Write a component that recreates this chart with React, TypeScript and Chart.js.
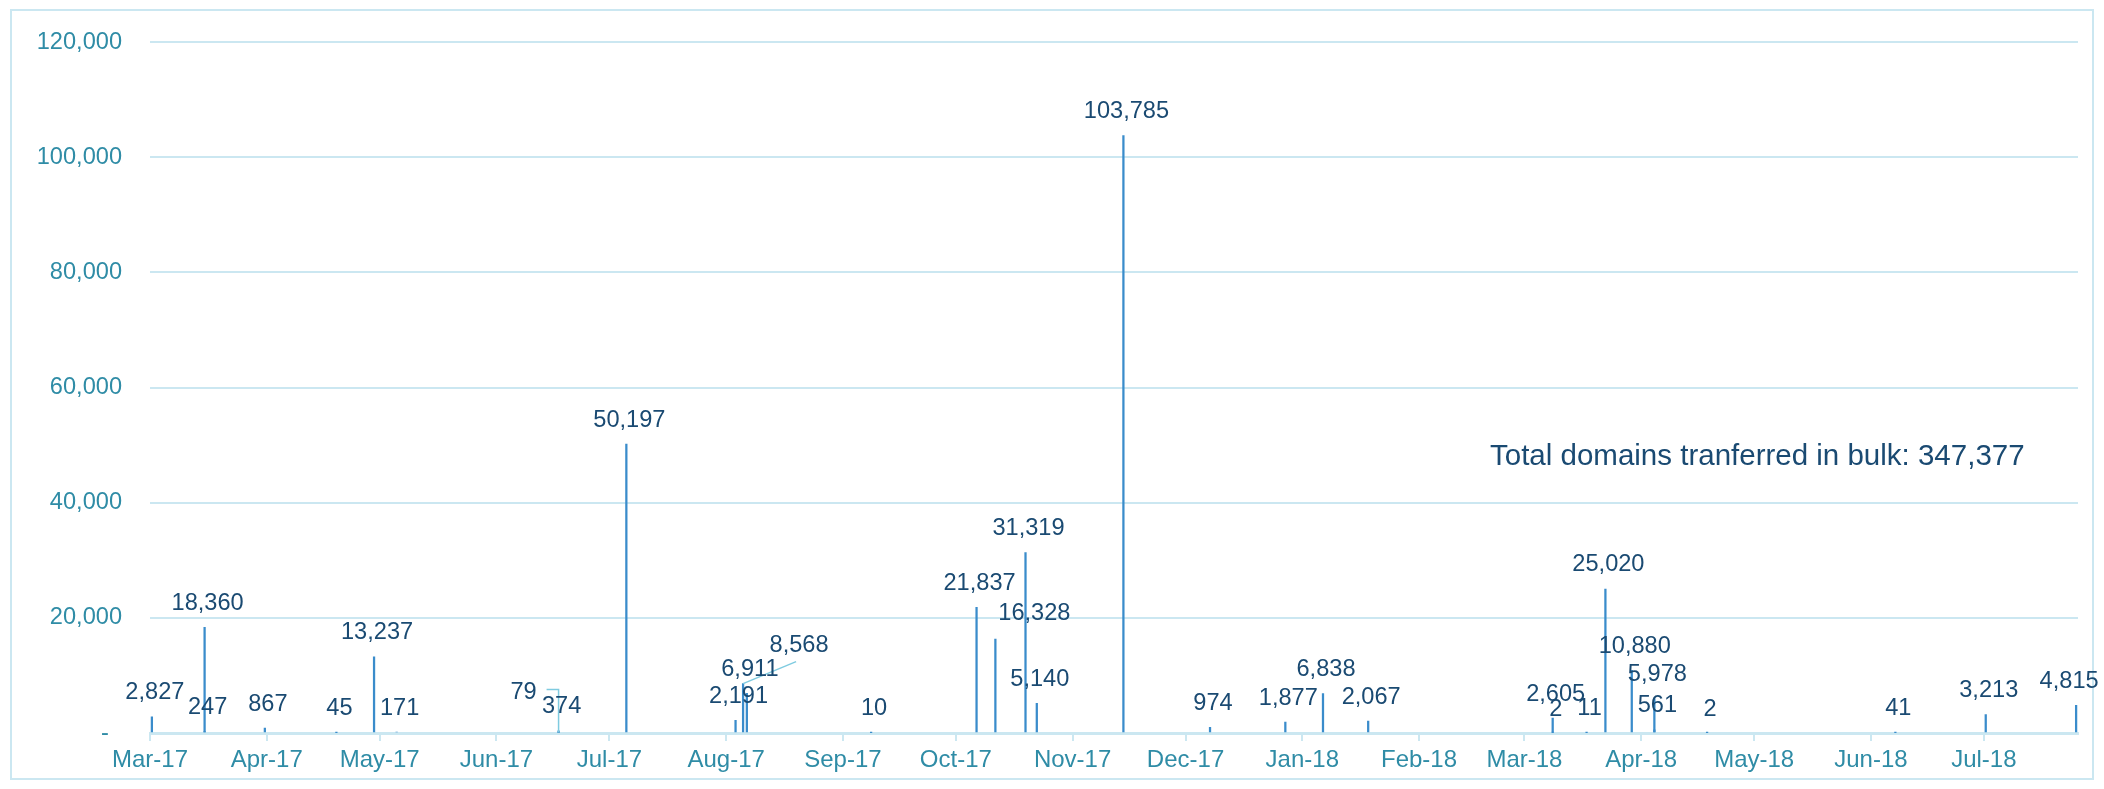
import React, { useEffect, useRef } from "react";
import { Chart, registerables } from "chart.js";

Chart.register(...registerables);

// ---- data ----
const dates = [
  "2017-03-01", "2017-03-15", "2017-03-15", "2017-03-31", "2017-04-19", "2017-04-29",
  "2017-05-05", "2017-06-17", "2017-06-17", "2017-07-05", "2017-08-03", "2017-08-05",
  "2017-08-06", "2017-09-08", "2017-10-06", "2017-10-11", "2017-10-19", "2017-10-22",
  "2017-11-14", "2017-12-07", "2017-12-27", "2018-01-06", "2018-01-18", "2018-03-08",
  "2018-03-08", "2018-03-17", "2018-03-22", "2018-03-29", "2018-04-04", "2018-04-04",
  "2018-04-18", "2018-06-07", "2018-07-01", "2018-07-25",
];
const values = [
  2827, 18360, 247, 867, 45, 13237,
  171, 79, 374, 50197, 2191, 8568,
  6911, 10, 21837, 16328, 31319, 5140,
  103785, 974, 1877, 6838, 2067, 2605,
  2, 11, 25020, 10880, 5978, 561,
  2, 41, 3213, 4815,
];
const monthTickDates = [
  "2017-03-01", "2017-04-01", "2017-05-01", "2017-06-01", "2017-07-01", "2017-08-01",
  "2017-09-01", "2017-10-01", "2017-11-01", "2017-12-01", "2018-01-01", "2018-02-01",
  "2018-03-01", "2018-04-01", "2018-05-01", "2018-06-01", "2018-07-01",
];
const monthTickLabels = [
  "Mar-17", "Apr-17", "May-17", "Jun-17", "Jul-17", "Aug-17",
  "Sep-17", "Oct-17", "Nov-17", "Dec-17", "Jan-18", "Feb-18",
  "Mar-18", "Apr-18", "May-18", "Jun-18", "Jul-18",
];
const axisStartDate = "2017-03-01";
const axisEndDate = "2018-07-26";
const yMax = 120000;
const yStep = 20000;
const totalText = "Total domains tranferred in bulk: 347,377";

// label nudges (pixels) for the few labels that were moved in the original
const labelNudges: Record<number, [number, number]> = {
  7: [-38, -16],
  11: [53, -14],
  15: [36, -2],
  33: [-10, 0],
};
const leaderKinds: Record<number, string> = { 7: "elbow", 11: "straight" };

// ---- styling ----
const FONT = "'Liberation Sans', Arial, sans-serif";
const tealText = "#2F8CA6";
const labelText = "#1A4A72";
const lightLine = "#CBE7F1";
const barColor = "#3A8CCB";
const leaderColor = "#7FCBE0";

const dayIndex = (d: string) =>
  (Date.parse(d + "T00:00:00Z") - Date.parse(axisStartDate + "T00:00:00Z")) / 86400000;

const fmt = (v: number) => v.toLocaleString("en-US");

const overlayPlugin = {
  id: "overlay",
  beforeDraw(chart: any) {
    const ctx = chart.ctx;
    ctx.save();
    ctx.fillStyle = "#ffffff";
    ctx.fillRect(0, 0, chart.width, chart.height);
    ctx.strokeStyle = lightLine;
    ctx.lineWidth = 2;
    ctx.strokeRect(11, 10, chart.width - 22, chart.height - 20);
    ctx.restore();
  },
  afterDatasetsDraw(chart: any) {
    const ctx = chart.ctx;
    const meta = chart.getDatasetMeta(0);
    ctx.save();
    ctx.font = `23.6px ${FONT}`;
    ctx.textAlign = "center";
    ctx.textBaseline = "middle";
    meta.data.forEach((el: any, i: number) => {
      const { x, y } = el.getProps(["x", "y"], true);
      const n = labelNudges[i] || [0, 0];
      const lx = x + 3 + n[0];
      const ly = y - 24 + n[1];
      const kind = leaderKinds[i];
      if (kind) {
        ctx.strokeStyle = leaderColor;
        ctx.lineWidth = 1.5;
        ctx.beginPath();
        if (kind === "elbow") {
          ctx.moveTo(lx + 23, ly - 3);
          ctx.lineTo(x, ly - 3);
          ctx.lineTo(x, y);
        } else {
          ctx.moveTo(x, y);
          ctx.lineTo(lx - 3, ly + 16);
        }
        ctx.stroke();
      }
      ctx.fillStyle = labelText;
      ctx.fillText(fmt(values[i]), lx, ly);
    });
    ctx.font = `29.5px ${FONT}`;
    ctx.textAlign = "left";
    ctx.fillStyle = labelText;
    ctx.fillText(totalText, chart.chartArea.left + 1340, 457);
    ctx.restore();
  },
};

export default function App() {
  const ref = useRef<HTMLCanvasElement | null>(null);

  useEffect(() => {
    document.body.style.margin = "0";
    document.body.style.overflow = "hidden";
    const canvas = ref.current;
    if (!canvas) return;
    const tickPositions = monthTickDates.map(dayIndex);
    const chart = new Chart(canvas, {
      type: "bar",
      data: {
        datasets: [
          {
            data: dates.map((d, i) => ({ x: dayIndex(d) + 0.5, y: values[i] })),
            backgroundColor: barColor,
            borderWidth: 0,
            barThickness: 1.6,
          },
        ],
      },
      options: {
        responsive: false,
        devicePixelRatio: 1,
        animation: false,
        events: [],
        layout: { padding: { left: 0, top: 40, right: 26, bottom: 0 } },
        plugins: { legend: { display: false }, tooltip: { enabled: false } },
        scales: {
          x: {
            type: "linear",
            offset: false,
            min: 0,
            max: dayIndex(axisEndDate),
            afterBuildTicks: (scale: any) => {
              scale.ticks = tickPositions.map((v) => ({ value: v }));
            },
            afterFit: (scale: any) => {
              scale.height = 56;
            },
            ticks: {
              autoSkip: false,
              maxRotation: 0,
              minRotation: 0,
              padding: 5,
              color: tealText,
              font: { family: FONT, size: 24 },
              callback: (v: any) => {
                const idx = tickPositions.indexOf(Number(v));
                return idx >= 0 ? monthTickLabels[idx] : "";
              },
            },
            grid: {
              offset: false,
              drawOnChartArea: false,
              drawTicks: true,
              tickLength: 8,
              color: lightLine,
              lineWidth: 2,
            },
            border: { display: true, color: lightLine, width: 3 },
          },
          y: {
            min: 0,
            max: yMax,
            afterFit: (scale: any) => {
              scale.width = 150;
            },
            ticks: {
              stepSize: yStep,
              padding: 28,
              color: tealText,
              font: { family: FONT, size: 23.6 },
              callback: (v: any) => (Number(v) === 0 ? "-  " : fmt(Number(v))),
            },
            grid: { color: lightLine, lineWidth: 2, drawTicks: false },
            border: { display: false },
          },
        },
      },
      plugins: [overlayPlugin],
    } as any);
    return () => chart.destroy();
  }, []);

  return <canvas ref={ref} width={2104} height={789} style={{ display: "block" }} />;
}
